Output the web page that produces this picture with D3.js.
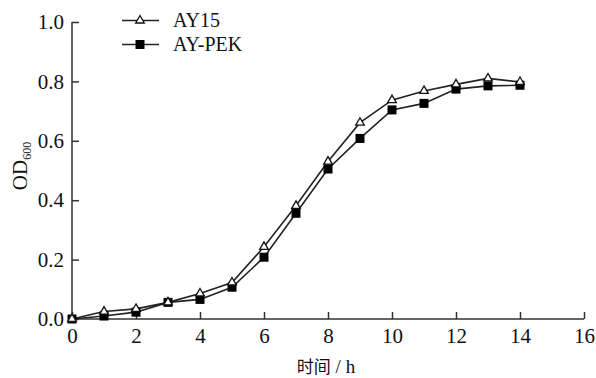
<!doctype html>
<html lang="zh">
<head>
<meta charset="utf-8">
<title>OD600 growth curve</title>
<script src="https://cdn.jsdelivr.net/npm/d3@7/dist/d3.min.js"></script>
<style>
  body { margin: 0; background: #fff; }
  svg text { font-family: "Liberation Serif", "Times New Roman", serif; fill: #111; }
  .axis path, .axis line { stroke: #333; stroke-width: 1.5px; }
  .line { fill: none; stroke: #222; stroke-width: 1.6px; }
</style>
</head>
<body>
<svg width="596" height="378"></svg>
<script>

// time points (h)
var hours = [0, 1, 2, 3, 4, 5, 6, 7, 8, 9, 10, 11, 12, 13, 14];
// OD600 readings
var ay15  = [0.0, 0.025, 0.034, 0.056, 0.086, 0.123, 0.243, 0.381, 0.53, 0.661, 0.737, 0.768, 0.79, 0.81, 0.798];
var aypek = [0.0, 0.01, 0.023, 0.056, 0.066, 0.107, 0.208, 0.356, 0.505, 0.608, 0.704, 0.726, 0.774, 0.785, 0.787];

var seriesNames = ["AY15", "AY-PEK"];
var xTicks = [0, 2, 4, 6, 8, 10, 12, 14, 16];
var yTicks = [0.0, 0.2, 0.4, 0.6, 0.8, 1.0];

var svg = d3.select("svg"),
    margin = {top: 22, right: 12, bottom: 59, left: 72},
    width = 584 - margin.left,
    height = 319 - margin.top,
    g = svg.append("g").attr("transform", "translate(" + margin.left + "," + margin.top + ")");

var x = d3.scaleLinear().domain([0, 16]).range([0, width]),
    y = d3.scaleLinear().domain([0, 1]).range([height, 0]);

var series = [
  {id: seriesNames[0], shape: "tri", values: hours.map(function(h, i) { return {h: h, v: ay15[i]}; })},
  {id: seriesNames[1], shape: "sq",  values: hours.map(function(h, i) { return {h: h, v: aypek[i]}; })}
];

// axes, ticks pointing inward
var xAxis = g.append("g")
    .attr("class", "axis")
    .attr("transform", "translate(0," + height + ")")
    .call(d3.axisBottom(x).tickValues(xTicks).tickSizeInner(-7).tickSizeOuter(0).tickPadding(9));
xAxis.selectAll("text").style("font-size", "21px").attr("dy", "0.71em");

var yAxis = g.append("g")
    .attr("class", "axis")
    .call(d3.axisLeft(y).tickValues(yTicks).tickSizeInner(-7).tickSizeOuter(0).tickPadding(8)
      .tickFormat(d3.format(".1f")));
yAxis.selectAll("text").style("font-size", "21px");
xAxis.select(".domain").attr("d", "M0,0H" + width);
yAxis.select(".domain").attr("d", "M0," + height + "V0");

var line = d3.line()
    .x(function(d) { return x(d.h); })
    .y(function(d) { return y(d.v); });

function marker(sel, shape) {
  if (shape === "tri") {
    sel.append("path")
      .attr("d", d3.symbol().type(d3.symbolTriangle).size(32))
      .style("fill", "#fff").style("stroke", "#111").style("stroke-width", 1.3);
  } else {
    sel.append("rect")
      .attr("x", -4.5).attr("y", -4.5).attr("width", 9).attr("height", 9)
      .style("fill", "#000");
  }
}

// draw square series first so the triangles sit on top
series.slice().reverse().forEach(function(s) {
  g.append("path").attr("class", "line").attr("d", line(s.values));
});
series.slice().reverse().forEach(function(s) {
  g.selectAll(null)
    .data(s.values)
    .enter().append("g")
      .attr("transform", function(d) { return "translate(" + x(d.h) + "," + y(d.v) + ")"; })
      .each(function() { marker(d3.select(this), s.shape); });
});

// legend
var legend = svg.append("g");
series.forEach(function(s, i) {
  var ly = 20.5 + i * 24;
  legend.append("line")
    .attr("x1", 122).attr("x2", 159).attr("y1", ly).attr("y2", ly)
    .style("stroke", "#222").style("stroke-width", 1.6);
  var m = legend.append("g").attr("transform", "translate(140," + ly + ")");
  marker(m, s.shape);
  legend.append("text")
    .attr("x", 173).attr("y", ly + 6.5)
    .style("font-size", "20px")
    .text(s.id);
});

// y axis title OD600
var yt = svg.append("text")
    .attr("transform", "translate(27,166) rotate(-90)")
    .attr("text-anchor", "middle")
    .style("font-size", "21px");
yt.append("tspan").text("OD");
yt.append("tspan").attr("dy", 4).style("font-size", "12px").text("600");

// x axis title
var xt = svg.append("text")
    .attr("x", 326).attr("y", 373)
    .attr("text-anchor", "middle")
    .style("font-size", "19px");
xt.append("tspan").style("font-family", "'Noto Sans CJK SC', sans-serif").style("font-size", "17px").text("时间");
xt.append("tspan").text(" / h");

</script>
</body>
</html>
